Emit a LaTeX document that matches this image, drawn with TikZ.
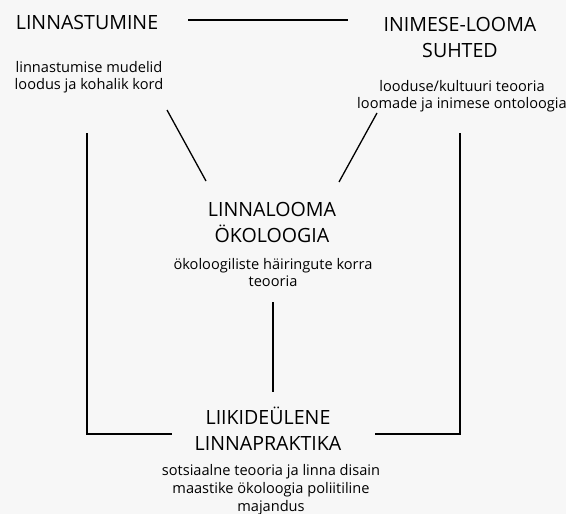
\documentclass[tikz,border=0pt]{standalone}
\usepackage{fontspec}
\setmainfont{Open Sans}
\definecolor{bg}{HTML}{F7F7F7}
\tikzset{
  title/.style={anchor=north,align=center,inner sep=0pt,font=\fontsize{19.6}{26}\selectfont},
  subtitle/.style={anchor=north,align=center,inner sep=0pt,font=\fontsize{14.6}{17.5}\selectfont},
  link/.style={line width=1.3pt}
}
\begin{document}
\begin{tikzpicture}[x=1pt,y=-1pt]
\fill[bg] (0,0) rectangle (566,514);
\useasboundingbox (0,0) rectangle (566,514);
% teemad
\node[title] (linn) at (87,15) {LINNASTUMINE};
\node[subtitle] (linnsub) at (89,61) {linnastumise mudelid\\loodus ja kohalik kord};
\node[title] (inim) at (460,17) {INIMESE-LOOMA\\SUHTED};
\node[subtitle] (inimsub) at (462,80) {looduse/kultuuri teooria\\loomade ja inimese ontoloogia};
\node[title] (oko) at (272,202) {LINNALOOMA\\ÖKOLOOGIA};
\node[subtitle] (okosub) at (273,258) {ökoloogiliste häiringute korra\\teooria};
\node[title] (prak) at (268,407) {LIIKIDEÜLENE\\LINNAPRAKTIKA};
\node[subtitle,font=\fontsize{14.6}{18.2}\selectfont] (praksub) at (271,464) {sotsiaalne teooria ja linna disain\\maastike ökoloogia poliitiline\\majandus};
% otsad
\coordinate (topl) at (188,20);
\coordinate (topr) at (348,20);
\coordinate (diagl) at (167,110);
\coordinate (diaglo) at (206,181);
\coordinate (diagr) at (377,113);
\coordinate (diagro) at (339,182);
\coordinate (midt) at (273,302);
\coordinate (midb) at (273,392);
\coordinate (sidel) at (87,133);
\coordinate (cornl) at (87,434);
\coordinate (endl) at (172,434);
\coordinate (sider) at (460,133);
\coordinate (cornr) at (460,434);
\coordinate (endr) at (375,434);
% jooned
\draw[link] (topl)--(topr);
\draw[link] (diagl)--(diaglo);
\draw[link] (diagr)--(diagro);
\draw[link] (midt)--(midb);
\draw[link] (sidel)--(cornl)--(endl);
\draw[link] (sider)--(cornr)--(endr);
\end{tikzpicture}
\end{document}
